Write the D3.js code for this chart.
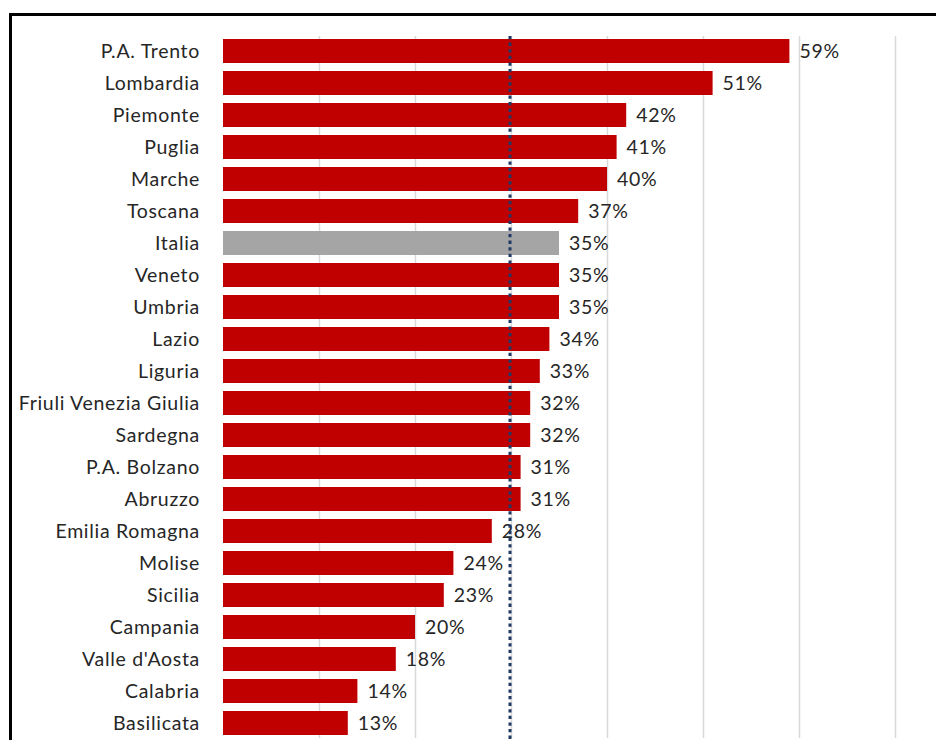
<!DOCTYPE html>
<html>
<head>
<meta charset="utf-8">
<script src="https://cdn.jsdelivr.net/npm/d3@7"></script>
<style>
  html, body { margin: 0; padding: 0; background: #fff; }
  svg { display: block; }
</style>
</head>
<body>
<svg id="chart" width="936" height="740"></svg>
<script>
const regions = ["P.A. Trento","Lombardia","Piemonte","Puglia","Marche","Toscana","Italia","Veneto","Umbria","Lazio","Liguria","Friuli Venezia Giulia","Sardegna","P.A. Bolzano","Abruzzo","Emilia Romagna","Molise","Sicilia","Campania","Valle d'Aosta","Calabria","Basilicata"];
const values = [0.59,0.51,0.42,0.41,0.40,0.37,0.35,0.35,0.35,0.34,0.33,0.32,0.32,0.31,0.31,0.28,0.24,0.23,0.20,0.18,0.14,0.13];
const gridTicks = [0,0.1,0.2,0.3,0.4,0.5,0.6,0.7];
const targetValue = 0.30;
const highlight = "Italia";

const svg = d3.select("#chart");
const font = "Lato, 'Open Sans', sans-serif";
const fontSize = 19.5;
const spacing = 0.7;

const x = d3.scaleLinear().domain([0, 0.7]).range([223, 895]);
const y = d3.scaleBand().domain(regions).range([35, 739]).paddingInner(0.25).paddingOuter(0.125);

// frame
svg.append("rect").attr("x", 10.5).attr("y", 14.5).attr("width", 940).attr("height", 760)
  .attr("fill", "none").attr("stroke", "#000").attr("stroke-width", 3);

// gridlines
svg.append("g").selectAll("line").data(gridTicks.slice(1)).join("line")
  .attr("x1", d => Math.round(x(d)) + 0.5).attr("x2", d => Math.round(x(d)) + 0.5)
  .attr("y1", 36).attr("y2", 738)
  .attr("stroke", "#d9d9d9").attr("stroke-width", 1.5);

// bars
svg.append("g").selectAll("rect").data(regions).join("rect")
  .attr("x", x(0))
  .attr("y", d => y(d))
  .attr("width", (d, i) => x(values[i]) - x(0))
  .attr("height", y.bandwidth())
  .attr("fill", d => d === highlight ? "#a5a5a5" : "#c00000");

// category labels
const yAxis = d3.axisLeft(y).tickSize(0).tickPadding(0);
const ga = svg.append("g").attr("transform", "translate(200,0)").call(yAxis);
ga.select(".domain").remove();
ga.selectAll("text").attr("font-family", font).attr("font-size", fontSize)
  .attr("letter-spacing", spacing).attr("fill", "#262626").attr("dy", "0.36em");

// value labels
svg.append("g").selectAll("text").data(regions).join("text")
  .attr("x", (d, i) => x(values[i]) + 10)
  .attr("y", d => y(d) + y.bandwidth() / 2)
  .attr("dy", "0.37em")
  .attr("font-family", font).attr("font-size", fontSize).attr("letter-spacing", spacing)
  .attr("fill", "#262626")
  .text((d, i) => Math.round(values[i] * 100) + "%");

// target dotted line
svg.append("line")
  .attr("x1", x(targetValue) - 1).attr("x2", x(targetValue) - 1)
  .attr("y1", 36).attr("y2", 740)
  .attr("stroke", "#1f3864").attr("stroke-width", 3)
  .attr("stroke-dasharray", "3.3,3.3");
</script>
</body>
</html>
